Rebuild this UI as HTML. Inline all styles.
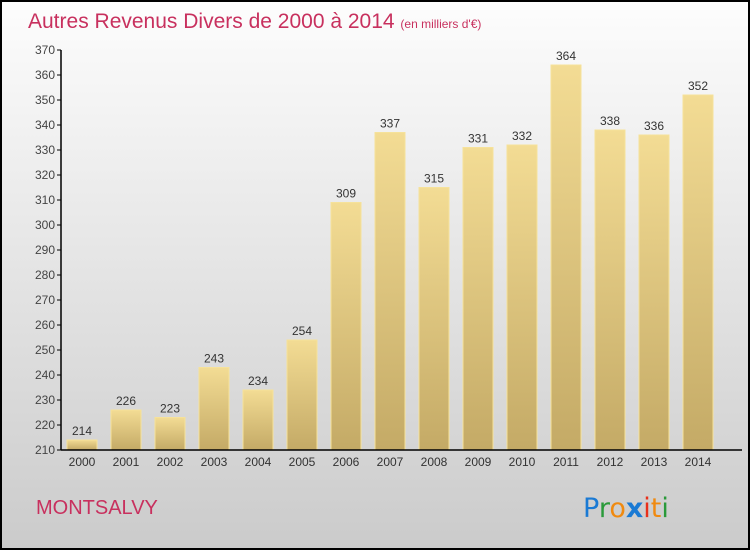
<!DOCTYPE html>
<html><head><meta charset="utf-8"><style>
html,body{margin:0;padding:0}
body{width:750px;height:550px;overflow:hidden;font-family:"Liberation Sans",sans-serif}
</style></head><body>
<svg width="750" height="550" xmlns="http://www.w3.org/2000/svg">
<defs>
<linearGradient id="bg" x1="0" y1="0" x2="0" y2="1"><stop offset="0" stop-color="#fdfdfd"/><stop offset="1" stop-color="#cbcbcb"/></linearGradient>
<linearGradient id="bar" x1="0" y1="0" x2="0" y2="1"><stop offset="0" stop-color="#f3dc94"/><stop offset="1" stop-color="#c4aa66"/></linearGradient>
</defs>
<rect x="1" y="1" width="748" height="548" fill="url(#bg)" stroke="#000" stroke-width="2"/>
<text x="28" y="28" font-size="21" fill="#c8305e">Autres Revenus Divers de 2000 à 2014 <tspan font-size="12">(en milliers d'€)</tspan></text>
<g id="plot"></g>
<text x="36" y="514" font-size="20" fill="#c8305e">MONTSALVY</text>
<text x="583" y="517" font-size="27" font-family="'DejaVu Sans',sans-serif"><tspan fill="#1a7ad4">P</tspan><tspan fill="#2a9a3a">r</tspan><tspan fill="#f08a10">o</tspan><tspan fill="#1a7ad4" font-weight="bold">x</tspan><tspan fill="#e8301a">i</tspan><tspan fill="#f08a10">t</tspan><tspan fill="#2a9a3a">i</tspan></text>
</svg>
<script>
const years=["2000","2001","2002","2003","2004","2005","2006","2007","2008","2009","2010","2011","2012","2013","2014"];
const values=[214,226,223,243,234,254,309,337,315,331,332,364,338,336,352];
const ticks=[210,220,230,240,250,260,270,280,290,300,310,320,330,340,350,360,370];
const NS="http://www.w3.org/2000/svg";
const g=document.getElementById('plot');
const yMin=210,yMax=370,pTop=50,pBot=450,pLeft=61;
function y(v){return pBot-(v-yMin)/(yMax-yMin)*(pBot-pTop);}
function xc(i){return 82+i*44;}
function mk(t,a,txt){const e=document.createElementNS(NS,t);for(const k in a)e.setAttribute(k,a[k]);if(txt!==undefined)e.textContent=txt;g.appendChild(e);return e;}
values.forEach((v,i)=>{
 const b=mk('rect',{x:xc(i)-15,y:y(v),width:30,height:pBot-y(v),fill:'url(#bar)',stroke:'#f6e29a','stroke-width':1});
 
 
 const l=mk('text',{x:xc(i),y:y(v)-5,'font-size':12,'text-anchor':'middle',fill:'#333'},String(v));
 
 
 const xl=mk('text',{x:xc(i),y:466,'font-size':12,'text-anchor':'middle',fill:'#333'},years[i]);
 
 
});
ticks.forEach(t=>{
 const tk=mk('line',{x1:pLeft-4,x2:pLeft,y1:y(t),y2:y(t),stroke:'#000'});
 
 
 const tl=mk('text',{x:pLeft-6,y:y(t)+4,'font-size':12,'text-anchor':'end',fill:'#444'},String(t));
 
 
});
const ya=mk('line',{x1:pLeft,x2:pLeft,y1:pTop,y2:pBot,stroke:'#000','stroke-width':1.5});


const xa=mk('line',{x1:pLeft,x2:742,y1:pBot,y2:pBot,stroke:'#000','stroke-width':1.5});


</script>
</body></html>
